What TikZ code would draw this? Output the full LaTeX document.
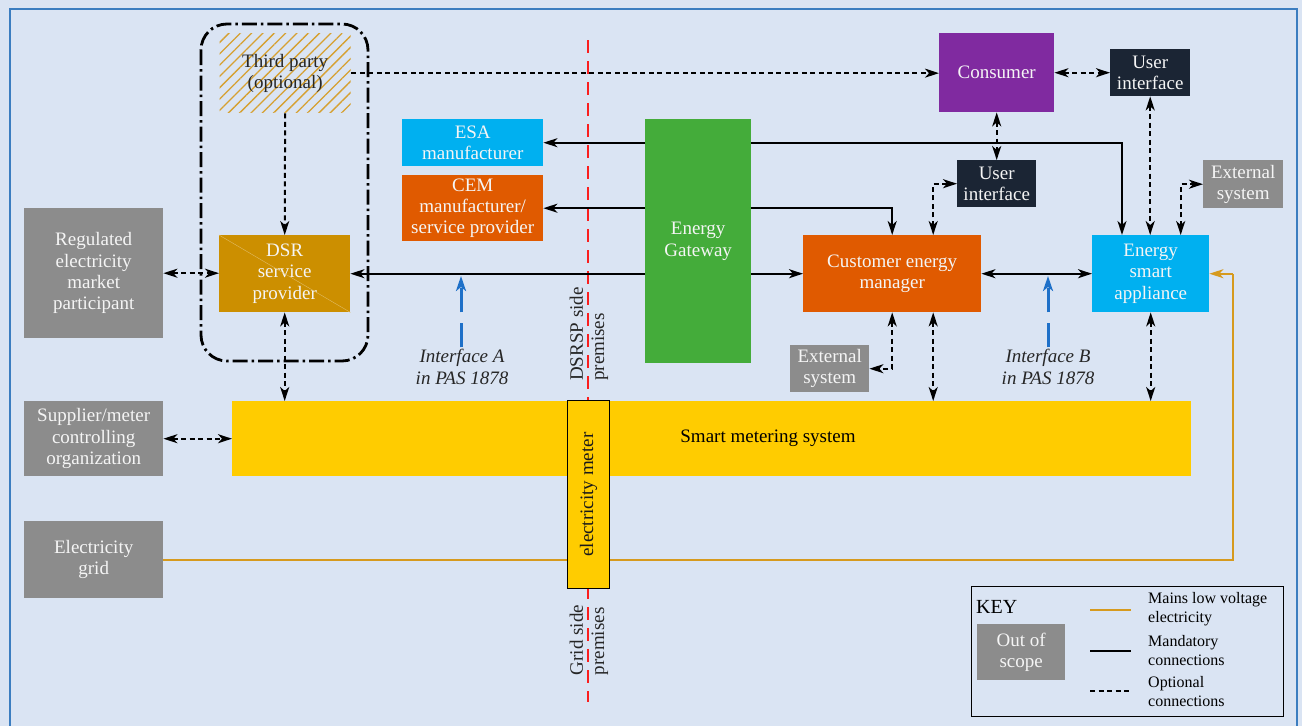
\documentclass[tikz,border=0pt]{standalone}
\usepackage{fontspec}
\setmainfont{Liberation Serif}
\usetikzlibrary{arrows.meta,patterns.meta}
\definecolor{bgblue}{RGB}{218,228,243}
\definecolor{frameblue}{RGB}{59,125,192}
\definecolor{outgrey}{RGB}{140,140,140}
\definecolor{dsrgold}{RGB}{204,143,0}
\definecolor{esablue}{RGB}{0,176,240}
\definecolor{cemorange}{RGB}{224,90,0}
\definecolor{gwgreen}{RGB}{68,172,58}
\definecolor{conpurple}{RGB}{128,42,160}
\definecolor{uidark}{RGB}{27,37,52}
\definecolor{smsyellow}{RGB}{255,204,0}
\definecolor{mainsline}{RGB}{214,154,30}
\definecolor{hatchc}{RGB}{214,160,48}
\definecolor{ifblue}{RGB}{30,112,200}
\definecolor{sidered}{RGB}{250,30,30}
\definecolor{boxtext}{RGB}{245,245,245}
\tikzset{
  x=1pt, y=-1pt,
  every node/.style={inner sep=0pt, align=center, font=\fontsize{19}{21.3}\selectfont},
  blk/.style={anchor=north west, text=boxtext},
  outbox/.style={blk, fill=outgrey},
  tip/.style={-{Stealth[length=14pt,width=9pt,inset=4pt]}},
  biptip/.style={{Stealth[length=14pt,width=9pt,inset=4pt]}-{Stealth[length=14pt,width=9pt,inset=4pt]}},
  man/.style={line width=2pt, black},
  opt/.style={line width=2pt, black, dash pattern=on 5pt off 3.5pt},
  mains/.style={line width=2pt, mainsline},
  iface/.style={line width=3pt, ifblue, dash pattern=on 24pt off 11pt,
    -{Stealth[length=15pt,width=10pt,inset=4pt]}},
  keytext/.style={anchor=west, align=left, font=\fontsize{16}{19}\selectfont}
}
\begin{document}
\begin{tikzpicture}
\useasboundingbox (0,0) rectangle (1302,726);
\fill[bgblue] (0,0) rectangle (1302,726);
\draw[frameblue, line width=2.6pt] (10,730) -- (10,9) -- (1297,9) -- (1297,730);

% premises boundary
\draw[sidered, line width=2.6pt, dash pattern=on 13pt off 8pt] (588,40) -- (588,702);

% optional third-party grouping
\draw[line width=2.8pt, rounded corners=26pt, dash pattern=on 15pt off 4pt on 2.5pt off 4pt]
  (201,24) rectangle (368,361);

% boxes
\node[anchor=north west, minimum width=131, minimum height=79,
  pattern={Lines[angle=45,distance=8pt,line width=1.3pt]}, pattern color=hatchc,
  text=black!85] (third) at (219,33) {Third party\\(optional)};
\node[blk, fill=dsrgold, minimum width=131, minimum height=77] (dsr) at (219,235) {DSR\\service\\provider};
\draw[dsrgold!60!white, line width=0.4pt] (dsr.north west) -- (dsr.south east);
\node[outbox, minimum width=139, minimum height=130] (reg) at (24,208) {Regulated\\electricity\\market\\participant};
\node[outbox, minimum width=139, minimum height=75] (sup) at (24,401) {Supplier/meter\\controlling\\organization};
\node[outbox, minimum width=139, minimum height=77] (grid) at (24,521) {Electricity\\grid};
\node[blk, fill=esablue, minimum width=141, minimum height=47] (esam) at (402,119) {ESA\\manufacturer};
\node[blk, fill=cemorange, minimum width=141, minimum height=66] (cemm) at (402,175) {CEM\\manufacturer/\\service provider};
\node[blk, fill=gwgreen, minimum width=106, minimum height=244] (gw) at (645,119) {Energy\\Gateway};
\node[blk, fill=conpurple, minimum width=115, minimum height=79] (consumer) at (939,33) {Consumer};
\node[blk, fill=uidark, minimum width=80, minimum height=47] (ui1) at (1110,49) {User\\interface};
\node[blk, fill=uidark, minimum width=79, minimum height=47] (ui2) at (957,160) {User\\interface};
\node[outbox, minimum width=80, minimum height=48] (ext1) at (1203,160) {External\\system};
\node[blk, fill=cemorange, minimum width=178, minimum height=77] (cem) at (803,235) {Customer energy\\manager};
\node[blk, fill=esablue, minimum width=117, minimum height=77] (esa) at (1092,235) {Energy\\smart\\appliance};
\node[outbox, minimum width=79, minimum height=47] (ext2) at (790,345) {External\\system};
\node[anchor=north west, fill=smsyellow, minimum width=959, minimum height=75] (sms) at (232,401) {};
\node (smslabel) at (768,438) {Smart metering system};

% side labels
\node[rotate=90, align=left, text=black!85] (dsrsp) at (589,334) {DSRSP side\\premises};
\node[rotate=90, align=left, text=black!85] (gridside) at (589,640) {Grid side\\premises};

% mains supply to the appliance
\coordinate (mainsup) at ([xshift=24]esa.east);
\draw[mains] (grid.east) -| (mainsup);
\draw[mains, tip] (mainsup) -- (esa.east);

% electricity meter
\node[anchor=north west, fill=smsyellow, draw=black, line width=1.3pt, minimum width=42, minimum height=188] (meter) at (567,400) {};
\node[rotate=90, text=black!90] (meterlabel) at (meter.center) {electricity meter};

% mandatory connections
\draw[man, tip] (gw.west |- dsr.east) -- (dsr.east);
\draw[man, tip] (gw.east |- cem.west) -- (cem.west);
\draw[man, tip] (gw.west |- esam.east) -- (esam.east);
\draw[man, tip] (gw.east |- esam.east) -| ([xshift=30]esa.north west);
\draw[man, tip] (gw.west |- cemm.east) -- (cemm.east);
\draw[man, tip] (gw.east |- cemm.east) -| (cem.north);
\draw[man, biptip] (cem.east) -- (esa.west);

% optional connections
\draw[opt, tip] (third.east) -- (third.east -| consumer.west);
\draw[opt, tip] (third.south) -- (dsr.north);
\draw[opt, biptip] (reg.east) -- (reg.east -| dsr.west);
\draw[opt, biptip] (dsr.south) -- (dsr.south |- sms.north);
\draw[opt, biptip] (sup.east) -- (sup.east -| sms.west);
\draw[opt, biptip] (consumer.east |- ui1.west) -- (ui1.west);
\draw[opt, biptip] (consumer.south) -- (consumer.south |- ui2.north);
\draw[opt, biptip] ([xshift=41]cem.north) |- (ui2.west);
\draw[opt, biptip] (ui1.south) -- (ui1.south |- esa.north);
\draw[opt, biptip] ([xshift=30]esa.north) |- (ext1.west);
\draw[opt, biptip] (cem.south) |- (ext2.east);
\draw[opt, biptip] ([xshift=41]cem.south) -- ([xshift=41]cem.south |- sms.north);
\draw[opt, biptip] (esa.south) -- (esa.south |- sms.north);

% interfaces
\node[font=\fontsize{19}{21.5}\selectfont\itshape, text=black!85] (ifA) at (462,367) {Interface A\\in PAS 1878};
\coordinate (ifAtop) at (461,276);
\draw[iface] ([xshift=-1]ifA.north) ++(0,-2) -- (ifAtop);
\node[font=\fontsize{19}{21.5}\selectfont\itshape, text=black!85] (ifB) at (1048,367) {Interface B\\in PAS 1878};
\coordinate (ifBtop) at (1048,276);
\draw[iface] (ifB.north) ++(0,-2) -- (ifBtop);

% key
\node[anchor=north west, draw=black, line width=1.2pt, minimum width=312, minimum height=130] (key) at (971,586) {};
\node[anchor=west, font=\fontsize{20}{22}\selectfont] (keytitle) at (976,607) {KEY};
\node[outbox, minimum width=88, minimum height=56] (oos) at (977,624) {Out of\\scope};
\coordinate (k1a) at (1090,610); \coordinate (k1b) at (1131,610);
\coordinate (k2a) at (1090,651); \coordinate (k2b) at (1131,651);
\coordinate (k3a) at (1090,691); \coordinate (k3b) at (1131,691);
\draw[mains] (k1a) -- (k1b);
\draw[man] (k2a) -- (k2b);
\draw[opt] (k3a) -- (k3b);
\node[keytext] (kt1) at (1148,609) {Mains low voltage\\electricity};
\node[keytext] (kt2) at (1148,651) {Mandatory\\connections};
\node[keytext] (kt3) at (1148,692) {Optional\\connections};
\end{tikzpicture}
\end{document}
